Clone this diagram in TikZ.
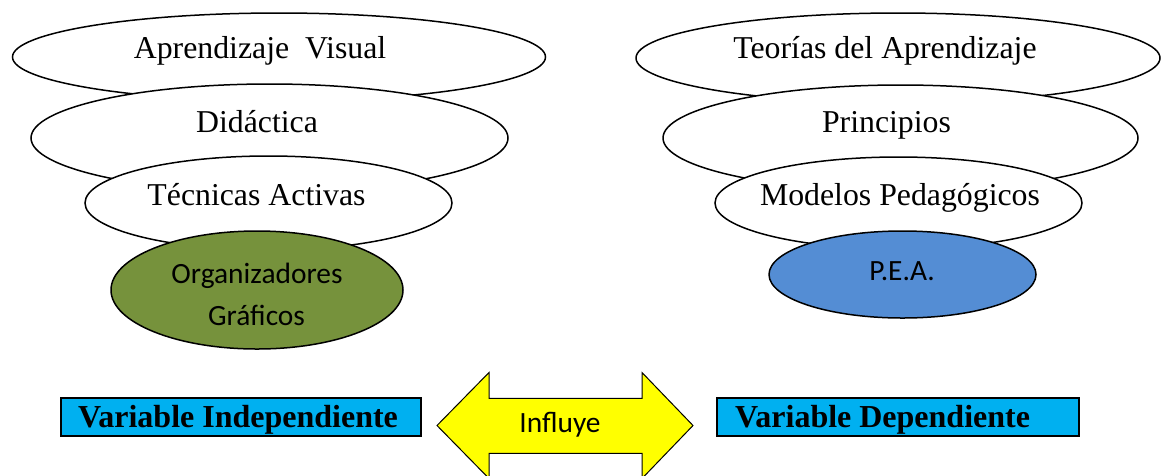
\documentclass[tikz,border=0pt]{standalone}
\usepackage{fontspec}
\setmainfont{Liberation Serif}
\newfontfamily\calib{Carlito}
\usetikzlibrary{shapes.geometric}

\definecolor{boxcyan}{RGB}{0,176,240}
\definecolor{olivefill}{RGB}{118,146,60}
\definecolor{peablue}{RGB}{84,141,212}
\definecolor{arrowyellow}{RGB}{255,255,0}

\tikzset{
  layer/.style={ellipse, draw=black, line width=1.5pt, fill=white, inner sep=0pt},
  core/.style={ellipse, draw=black, line width=1.5pt, inner sep=0pt},
  serif/.style={inner sep=0pt, anchor=base, font=\fontsize{31.8}{36}\selectfont},
  sans/.style={inner sep=0pt, anchor=base, font=\calib\fontsize{29.4}{34}\selectfont},
  varbox/.style={rectangle, draw=black, line width=2.1pt, fill=boxcyan, inner sep=0pt},
  vartext/.style={inner sep=0pt, anchor=base west, font=\bfseries\fontsize{32}{36}\selectfont},
}

\begin{document}
\begin{tikzpicture}[x=1pt, y=-1pt]
  \useasboundingbox (0,0) rectangle (1161,475);
  \clip (0,0) rectangle (1161,475);

  % left funnel: independent variable
  \node[layer, minimum width=533pt, minimum height=88pt] (visual) at (279,57) {};
  \node[layer, minimum width=477pt, minimum height=108pt] (didac) at (269.5,138) {};
  \node[layer, minimum width=367pt, minimum height=94pt] (tecn) at (268.5,203) {};
  \node[core, fill=olivefill, minimum width=292pt, minimum height=118pt] (org) at (257,290) {};

  \node[serif] (tvisual) at (260,58) {Aprendizaje\ \ Visual};
  \node[serif] (tdidac) at (257,132) {Didáctica};
  \node[serif] (ttecn) at (256.5,205) {Técnicas Activas};
  \node[sans] (torg1) at (257,283) {Organizadores};
  \node[sans] (torg2) at (256.5,325) {Gráficos};

  % right funnel: dependent variable
  \node[layer, minimum width=524pt, minimum height=90pt] (teor) at (898,58) {};
  \node[layer, minimum width=475pt, minimum height=106pt] (princ) at (900.5,138) {};
  \node[layer, minimum width=367pt, minimum height=92pt] (model) at (898.5,203) {};
  \node[core, fill=peablue, minimum width=267pt, minimum height=87pt] (pea) at (902.5,274.5) {};

  \node[serif] (tteor) at (885,58) {Teorías del Aprendizaje};
  \node[serif] (tprinc) at (886.5,132) {Principios};
  \node[serif] (tmodel) at (900,205) {Modelos Pedagógicos};
  \node[sans] (tpea) at (902,280) {P.E.A.};

  % variable boxes
  \node[varbox, minimum width=360pt, minimum height=38pt] (vind) at (240.7,417) {};
  \node[vartext] (tvind) at (78,427) {Variable Independiente};
  \node[varbox, minimum width=362pt, minimum height=38pt] (vdep) at (898,417) {};
  \node[vartext] (tvdep) at (735,427) {Variable Dependiente};

  % double arrow between the two variables
  \filldraw[fill=arrowyellow, draw=black, line width=1pt, line join=miter]
    (437,425.5) -- (489,372.5) -- (489,398.3) -- (642,398.3) -- (642,372.5)
    -- (693,425.5) -- (642,478.5) -- (642,453.3) -- (489,453.3) -- (489,478.5) -- cycle;
  \node[sans] (tinfl) at (560,432) {Influye};
\end{tikzpicture}
\end{document}
